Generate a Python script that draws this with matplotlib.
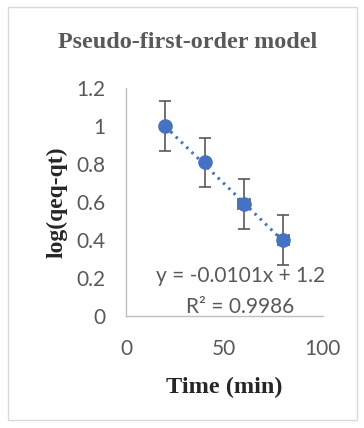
import numpy as np
import matplotlib.pyplot as plt
from matplotlib.patches import Rectangle

# data
time = [20, 40, 60, 80]
log_q = [1.0, 0.81, 0.59, 0.40]
y_err = [0.13, 0.13, 0.13, 0.13]
x_err = [0, 0, 3, 3]
slope = -0.0101
intercept = 1.2
eq_text = "y = -0.0101x + 1.2"
r2_text = "R² = 0.9986"

blue = "#4472C4"
grey = "#595959"

fig = plt.figure(figsize=(3.64, 4.28), dpi=100)
ax = fig.add_axes([0.346, 0.262, 0.541, 0.532])

# outer chart frame
fig.patches.append(Rectangle((8 / 364, 8 / 428), 349 / 364, 413 / 428,
                             transform=fig.transFigure, fill=False,
                             edgecolor="#d9d9d9", lw=1))

ax.errorbar(time, log_q, yerr=y_err, xerr=x_err, fmt="none",
            ecolor=grey, elinewidth=1.2, capsize=4, capthick=1.2, zorder=2)
ax.plot(time, log_q, "o", color=blue, markersize=9.5, zorder=3)

# linear trendline
tx = np.array([time[0], time[-1]])
ax.plot(tx, slope * tx + intercept, linestyle=(0, (0.8, 1.6)), color=blue,
        lw=2.2, zorder=2)

ax.text(58, 0.179, eq_text, ha="center", va="baseline", fontsize=15,
        family="Lato", color=grey)
ax.text(58, 0.016, r2_text, ha="center", va="baseline", fontsize=15,
        family="Lato", color=grey)

ax.set_xlim(0, 100)
ax.set_ylim(0, 1.2)
ax.set_xticks([0, 50, 100])
ax.set_yticks([0, 0.2, 0.4, 0.6, 0.8, 1.0, 1.2])
ax.set_yticklabels(["0", "0.2", "0.4", "0.6", "0.8", "1", "1.2"])
ax.tick_params(length=0, labelsize=15, labelcolor=grey)
ax.tick_params(axis="y", pad=15)
ax.tick_params(axis="x", pad=17)
for lab in ax.get_xticklabels() + ax.get_yticklabels():
    lab.set_family("Lato")

for s in ["top", "right"]:
    ax.spines[s].set_visible(False)
for s in ["left", "bottom"]:
    ax.spines[s].set_color("#bfbfbf")
    ax.spines[s].set_linewidth(1)

fig.text(188 / 364, 1 - 42 / 428, "Pseudo-first-order model", ha="center",
         va="center", fontsize=17.4, fontweight="bold",
         family="Liberation Serif", color=grey)
ax.set_xlabel("Time (min)", fontsize=17.5, fontweight="bold",
              family="Liberation Serif", color="#262626")
ax.xaxis.set_label_coords(0.5, -(377 - 316) / 228)
ax.set_ylabel("log(qeq-qt)", fontsize=17, fontweight="bold",
              family="Liberation Serif", color="#262626")
ax.yaxis.set_label_coords(-(126 - 68) / 197, 0.5)

fig.savefig("out.png", dpi=100)
